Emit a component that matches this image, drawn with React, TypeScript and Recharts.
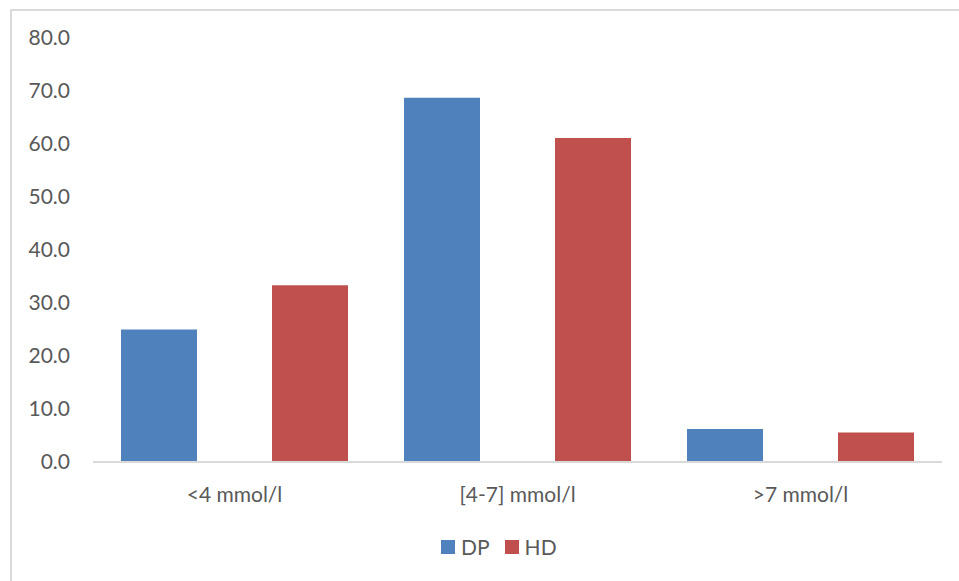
import { BarChart, Bar, XAxis, YAxis, Legend } from "recharts";

const CATEGORIES = ["<4 mmol/l", "[4-7] mmol/l", ">7 mmol/l"];
const DP_VALUES = [25.0, 68.75, 6.25];
const HD_VALUES = [33.33, 61.11, 5.56];
const Y_TICKS = [0, 10, 20, 30, 40, 50, 60, 70, 80];

const SERIES = [
  { key: "DP", color: "#4F81BD" },
  { key: "HD", color: "#C0504D" },
];

const data = CATEGORIES.map((name, i) => ({
  name,
  DP: DP_VALUES[i],
  HD: HD_VALUES[i],
}));

const FONT = "Lato, 'Open Sans', sans-serif";
const TEXT = "#595959";
const LINE = "#D9D9D9";

const LegendBox = () => (
  <div style={{ display: "flex", alignItems: "center", fontFamily: FONT, fontSize: 21, color: TEXT, lineHeight: "20px" }}>
    {SERIES.map((s, i) => (
      <div key={s.key} style={{ display: "flex", alignItems: "center", marginLeft: i ? 15 : 0 }}>
        <span style={{ width: 14, height: 14, background: s.color, marginRight: 6, display: "inline-block" }} />
        <span>{s.key}</span>
      </div>
    ))}
  </div>
);

export default function App() {
  return (
    <div
      style={{
        position: "absolute",
        left: 0,
        top: 0,
        width: 959,
        height: 581,
        overflow: "hidden",
        background: "#fff",
      }}
    >
      <div
        style={{
          position: "absolute",
          left: 10,
          top: 9,
          width: 1000,
          height: 1000,
          border: `2px solid ${LINE}`,
        }}
      />
      <div style={{ position: "absolute", left: 0, top: 0 }}>
        <BarChart
          width={959}
          height={581}
          data={data}
          margin={{ top: 38, right: 17, left: 10, bottom: 0 }}
          barCategoryGap={28}
          barGap={75}
        >
          <XAxis
            dataKey="name"
            height={99}
            tickLine={false}
            tickSize={0}
            tickMargin={25}
            axisLine={{ stroke: LINE, strokeWidth: 2 }}
            tick={{ fill: TEXT, fontSize: 21, fontFamily: FONT }}
          />
          <YAxis
            width={83}
            domain={[0, 80]}
            ticks={Y_TICKS}
            interval={0}
            axisLine={false}
            tickLine={false}
            tickSize={0}
            tickMargin={23}
            tickFormatter={(v: number) => v.toFixed(1)}
            tick={{ fill: TEXT, fontSize: 21, fontFamily: FONT }}
          />
          <Legend
            verticalAlign="bottom"
            height={20}
            content={<LegendBox />}
            wrapperStyle={{ left: 441, top: 537, width: "auto" }}
          />
          {SERIES.map((s) => (
            <Bar key={s.key} dataKey={s.key} fill={s.color} isAnimationActive={false} />
          ))}
        </BarChart>
      </div>
    </div>
  );
}
